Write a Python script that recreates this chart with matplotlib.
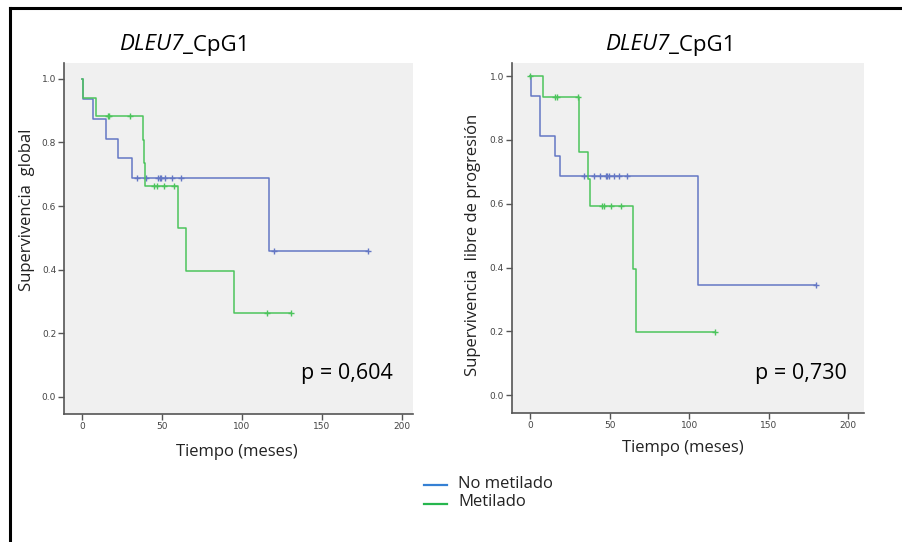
import matplotlib.pyplot as plt
from matplotlib.lines import Line2D

# Kaplan-Meier step curves: change times and survival levels, plus censored cases
# Overall survival (left)
os_nm_t = [0, 0.5, 7, 15, 22.5, 31, 117, 179]
os_nm_s = [1.0, 0.9375, 0.875, 0.8125, 0.75, 0.6875, 0.458, 0.458]
os_nm_cens_t = [34, 40, 47.5, 48.5, 49.5, 52, 56, 61.5, 120, 179]
os_nm_cens_s = [0.6875] * 8 + [0.458, 0.458]

os_m_t = [0, 0.5, 8.5, 38, 38.5, 39, 60, 65, 95, 130.5]
os_m_s = [1.0, 0.941, 0.882, 0.809, 0.735, 0.662, 0.530, 0.397, 0.265, 0.265]
os_m_cens_t = [16, 17, 30, 45, 46.5, 51, 57.5, 115.5, 130.5]
os_m_cens_s = [0.882] * 3 + [0.662] * 4 + [0.265, 0.265]

# Progression-free survival (right)
pfs_nm_t = [0, 0.5, 6, 6.5, 15.5, 19, 105.5, 180]
pfs_nm_s = [1.0, 0.9375, 0.875, 0.8125, 0.75, 0.6875, 0.344, 0.344]
pfs_nm_cens_t = [34, 40, 44, 47.5, 48.5, 49.5, 52.5, 56, 61, 180]
pfs_nm_cens_s = [0.6875] * 9 + [0.344]

pfs_m_t = [0, 8.5, 30.5, 31, 36.5, 37.5, 65, 66.5, 116]
pfs_m_s = [1.0, 0.933, 0.848, 0.763, 0.678, 0.593, 0.395, 0.198, 0.198]
pfs_m_cens_t = [0.2, 16, 17, 30, 45, 46.5, 51, 57, 116]
pfs_m_cens_s = [1.0] + [0.933] * 3 + [0.593] * 4 + [0.198]

x_ticks = [0, 50, 100, 150, 200]
y_ticks = [0.0, 0.2, 0.4, 0.6, 0.8, 1.0]
legend_labels = ["No metilado", "Metilado"]
p_values = ["p = 0,604", "p = 0,730"]
y_labels = ["Supervivencia  global", "Supervivencia  libre de progresión"]

C_NM = "#6477c4"
C_M = "#4cc45c"
LEG_NM = "#3580d4"
LEG_M = "#26b64e"
FONT = "Open Sans"

fig = plt.figure(figsize=(9.03, 5.42), dpi=100)

# outer frame: top and left border lines only
fig.add_artist(Line2D([10 / 903, 1], [1 - 8 / 542, 1 - 8 / 542], color="black", lw=2.2))
fig.add_artist(Line2D([10 / 903, 10 / 903], [0, 1 - 8 / 542], color="black", lw=2.2))

panels = [
    dict(rect=[64.5 / 903, 1 - 414 / 542, (413 - 64.5) / 903, (414 - 63) / 542],
         xlim=(-11.1, 207), ylim=(-0.054, 1.05),
         curves=[(os_nm_t, os_nm_s, os_nm_cens_t, os_nm_cens_s, C_NM),
                 (os_m_t, os_m_s, os_m_cens_t, os_m_cens_s, C_M)]),
    dict(rect=[512.3 / 903, 1 - 413 / 542, (864 - 512.3) / 903, (413 - 63.3) / 542],
         xlim=(-11.1, 209.9), ylim=(-0.056, 1.04),
         curves=[(pfs_nm_t, pfs_nm_s, pfs_nm_cens_t, pfs_nm_cens_s, C_NM),
                 (pfs_m_t, pfs_m_s, pfs_m_cens_t, pfs_m_cens_s, C_M)]),
]

title_split = [183 / 903, 669 / 903]
ylab_pos = [(27 / 903, 1 - 210 / 542), (473 / 903, 1 - 245 / 542)]
xlab_pos = [(237 / 903, 1 - 452 / 542), (683 / 903, 1 - 448 / 542)]
p_pos = [(393 / 903, 1 - 373 / 542), (847 / 903, 1 - 373 / 542)]

for i, p in enumerate(panels):
    ax = fig.add_axes(p["rect"])
    ax.set_facecolor("#f0f0f0")
    for t, s, ct, cs, col in p["curves"]:
        ax.step(t, s, where="post", color=col, lw=1.1)
        ax.plot(ct, cs, ls="none", marker="+", ms=5, mew=1.0, color=col)
    ax.set_xlim(*p["xlim"])
    ax.set_ylim(*p["ylim"])
    ax.set_xticks(x_ticks)
    ax.set_xticklabels([str(v) for v in x_ticks])
    ax.set_yticks(y_ticks)
    ax.set_yticklabels([f"{v:.1f}" for v in y_ticks])
    for side in ["top", "right"]:
        ax.spines[side].set_visible(False)
    for side in ["left", "bottom"]:
        ax.spines[side].set_color("#555555")
        ax.spines[side].set_linewidth(1.2)
    ax.tick_params(length=4, width=1, color="#555555", labelsize=6.5,
                   labelcolor="#444444", pad=2)

    # gene name in italics, probe suffix upright
    fig.text(title_split[i], 1 - 45 / 542, "DLEU7", fontsize=16, family=FONT,
             style="italic", ha="right", va="center")
    fig.text(title_split[i], 1 - 45 / 542, "_CpG1", fontsize=16, family=FONT,
             ha="left", va="center")
    fig.text(*ylab_pos[i], y_labels[i], rotation=90, fontsize=12,
             family=FONT, ha="center", va="center", color="#222222")
    fig.text(*xlab_pos[i], "Tiempo (meses)", fontsize=12, family=FONT,
             ha="center", va="center", color="#222222")
    fig.text(*p_pos[i], p_values[i], fontsize=15.5, family=FONT,
             ha="right", va="center", color="black")

# legend drawn as free lines and labels below the panels
for y_px, col, lab in [(485, LEG_NM, legend_labels[0]), (504, LEG_M, legend_labels[1])]:
    y = 1 - y_px / 542
    fig.add_artist(Line2D([424 / 903, 447 / 903], [y, y], color=col, lw=1.6))
    fig.text(458 / 903, y + 1.5 / 542, lab, fontsize=12, family=FONT,
             ha="left", va="center", color="#222222")

fig.savefig("out.png", dpi=100)
